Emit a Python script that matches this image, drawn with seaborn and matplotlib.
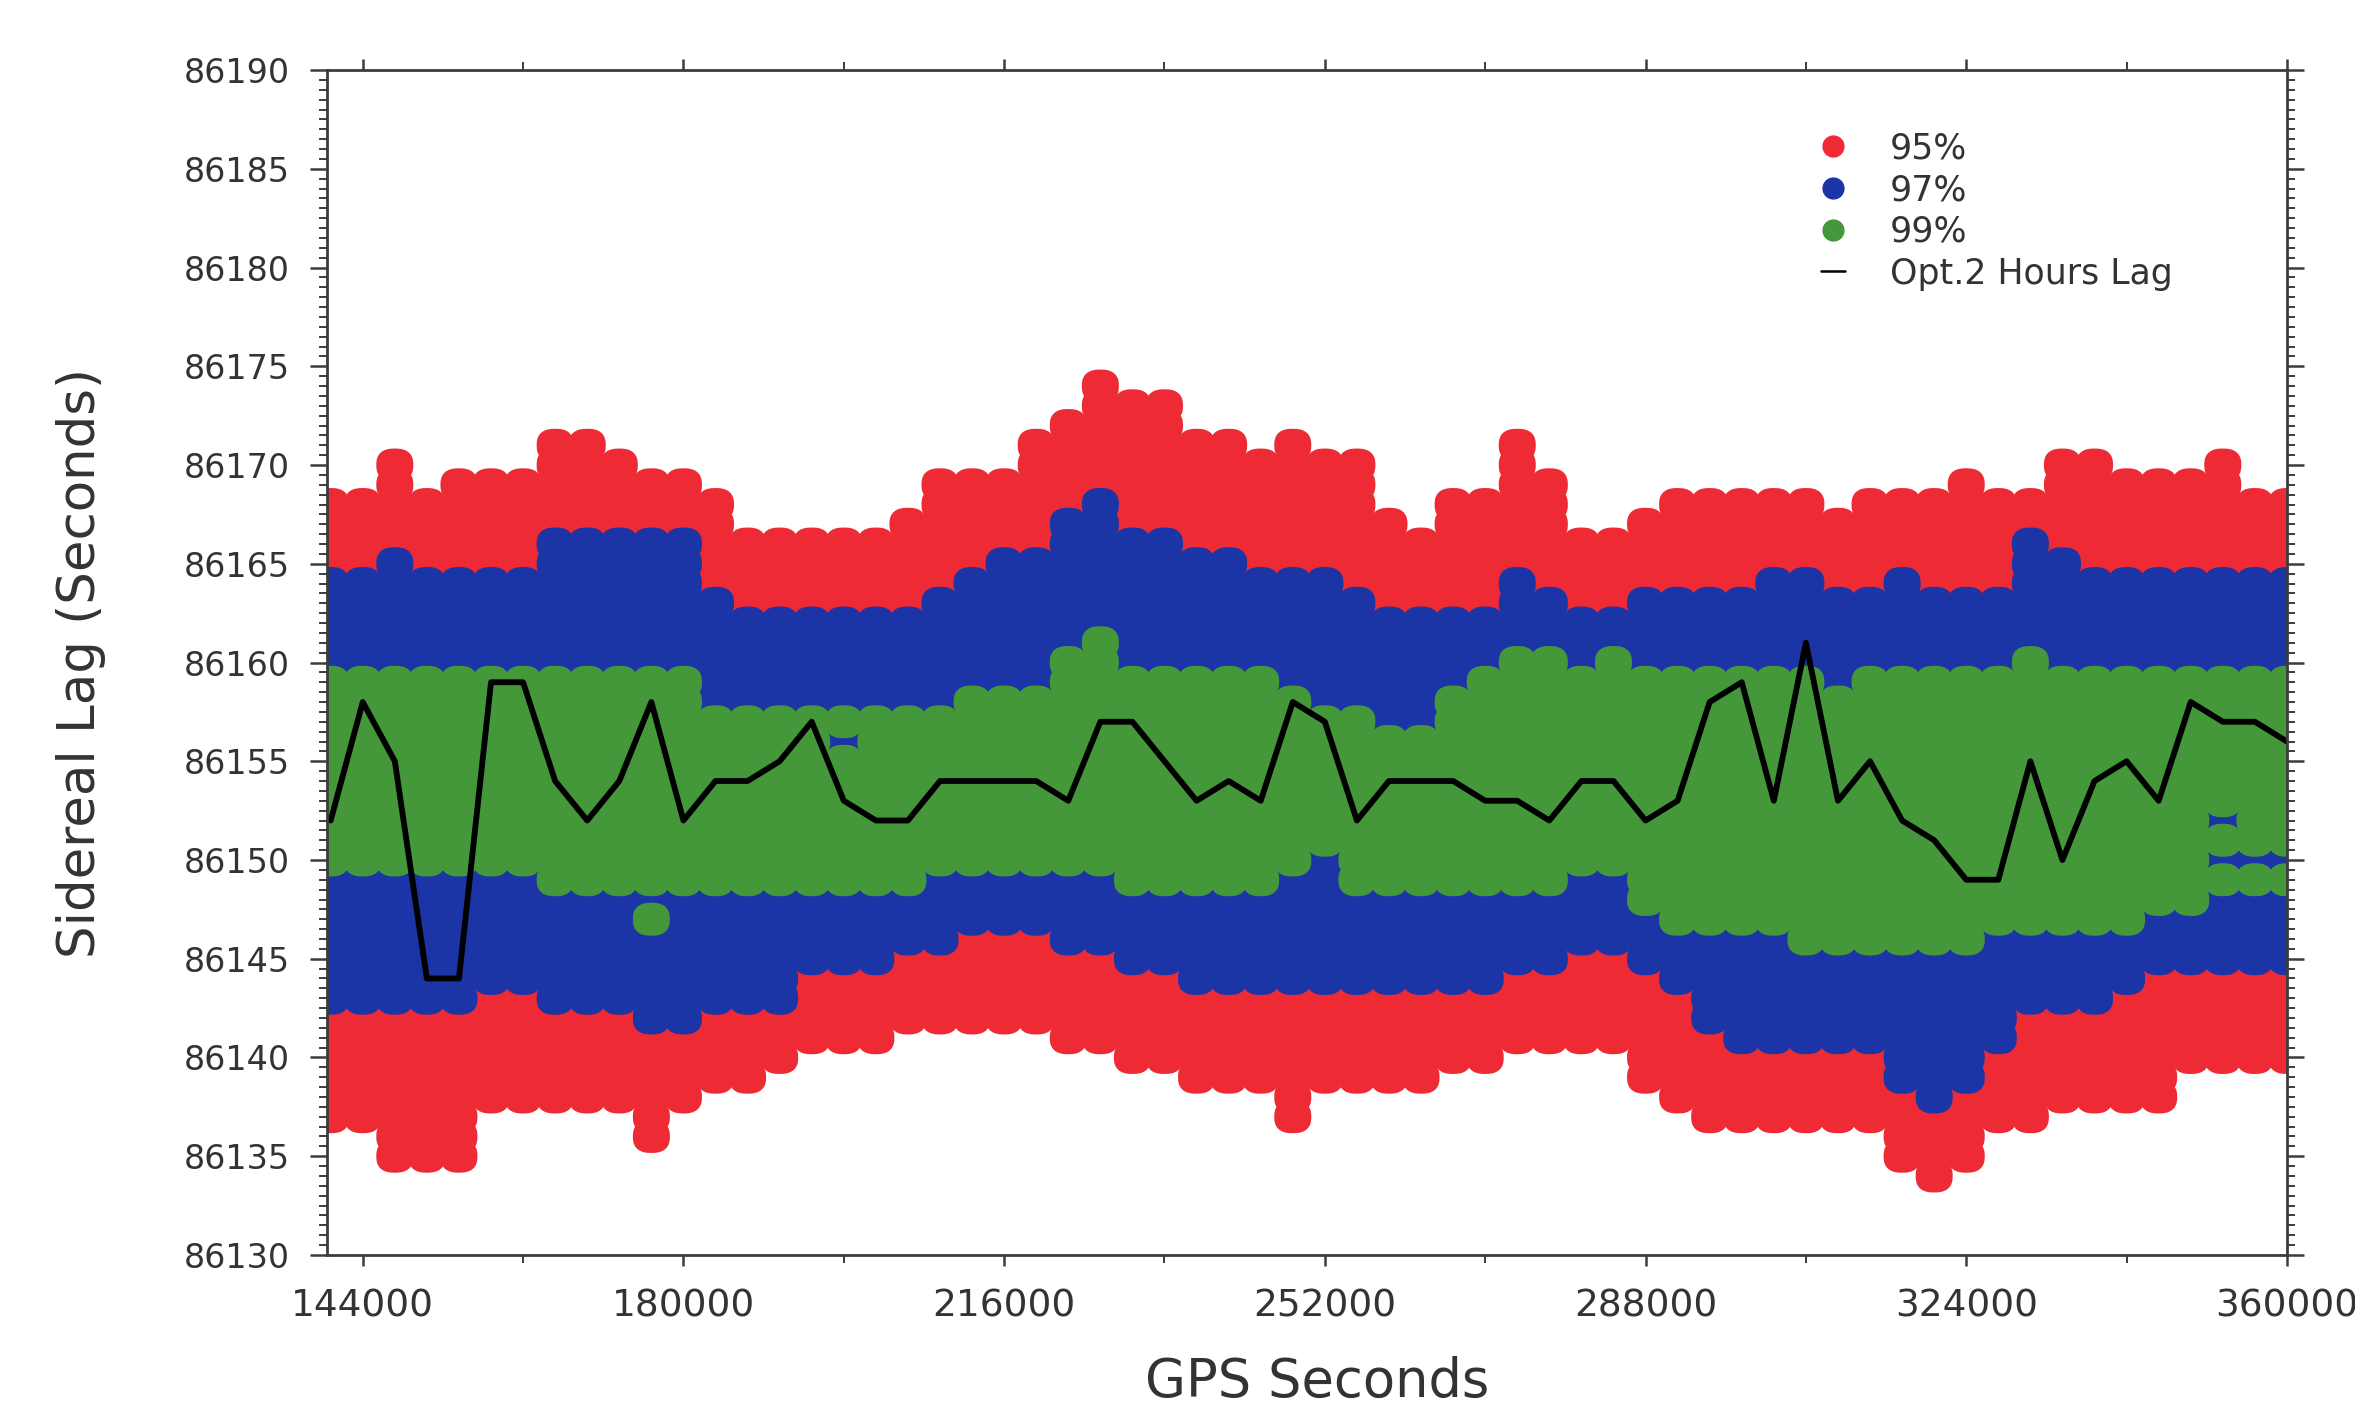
import numpy as np
import pandas as pd
import matplotlib
matplotlib.use("Agg")
import matplotlib.pyplot as plt
import seaborn as sns
from matplotlib.ticker import MultipleLocator
from matplotlib.lines import Line2D
from matplotlib.path import Path

# Hourly epochs (GPS seconds)
GPS = np.arange(140400, 360001, 3600)

# Band limits (sidereal lag, seconds) for each epoch
RED_TOP = [86168, 86168, 86170, 86168, 86169, 86169, 86169, 86171, 86171, 86170,
           86169, 86169, 86168, 86166, 86166, 86166, 86166, 86166, 86167, 86169,
           86169, 86169, 86171, 86172, 86174, 86173, 86173, 86171, 86171, 86170,
           86171, 86170, 86170, 86167, 86166, 86168, 86168, 86171, 86169, 86166,
           86166, 86167, 86168, 86168, 86168, 86168, 86168, 86167, 86168, 86168,
           86168, 86169, 86168, 86168, 86170, 86170, 86169, 86169, 86169, 86170,
           86168, 86168]
BLUE_TOP = [86164, 86164, 86165, 86164, 86164, 86164, 86164, 86166, 86166, 86166,
            86166, 86166, 86163, 86162, 86162, 86162, 86162, 86162, 86162, 86163,
            86164, 86165, 86165, 86167, 86168, 86166, 86166, 86165, 86165, 86164,
            86164, 86164, 86163, 86162, 86162, 86162, 86162, 86164, 86163, 86162,
            86162, 86163, 86163, 86163, 86163, 86164, 86164, 86163, 86163, 86164,
            86163, 86163, 86163, 86166, 86165, 86164, 86164, 86164, 86164, 86164,
            86164, 86164]
GREEN_TOP = [86159, 86159, 86159, 86159, 86159, 86159, 86159, 86159, 86159, 86159,
             86159, 86159, 86157, 86157, 86157, 86157, 86157, 86157, 86157, 86157,
             86158, 86158, 86158, 86160, 86161, 86159, 86159, 86159, 86159, 86159,
             86158, 86157, 86157, 86156, 86156, 86158, 86159, 86160, 86160, 86159,
             86160, 86159, 86159, 86159, 86159, 86159, 86159, 86158, 86159, 86159,
             86159, 86159, 86159, 86160, 86159, 86159, 86159, 86159, 86159, 86159,
             86159, 86159]
GREEN_BOT = [86150, 86150, 86150, 86150, 86150, 86150, 86150, 86149, 86149, 86149,
             86149, 86149, 86149, 86149, 86149, 86149, 86149, 86149, 86149, 86150,
             86150, 86150, 86150, 86150, 86150, 86149, 86149, 86149, 86149, 86149,
             86150, 86151, 86149, 86149, 86149, 86149, 86149, 86149, 86149, 86150,
             86150, 86148, 86147, 86147, 86147, 86147, 86146, 86146, 86146, 86146,
             86146, 86146, 86147, 86147, 86147, 86147, 86147, 86148, 86148, 86149,
             86149, 86149]
BLUE_BOT = [86143, 86143, 86143, 86143, 86143, 86144, 86144, 86143, 86143, 86143,
            86142, 86142, 86143, 86143, 86143, 86145, 86145, 86145, 86146, 86146,
            86147, 86147, 86147, 86146, 86146, 86145, 86145, 86144, 86144, 86144,
            86144, 86144, 86144, 86144, 86144, 86144, 86144, 86145, 86145, 86146,
            86146, 86145, 86144, 86142, 86141, 86141, 86141, 86141, 86141, 86139,
            86138, 86139, 86141, 86143, 86143, 86143, 86144, 86145, 86145, 86145,
            86145, 86145]
RED_BOT = [86137, 86137, 86135, 86135, 86135, 86138, 86138, 86138, 86138, 86138,
           86136, 86138, 86139, 86139, 86140, 86141, 86141, 86141, 86142, 86142,
           86142, 86142, 86142, 86141, 86141, 86140, 86140, 86139, 86139, 86139,
           86137, 86139, 86139, 86139, 86139, 86140, 86140, 86141, 86141, 86141,
           86141, 86139, 86138, 86137, 86137, 86137, 86137, 86137, 86137, 86135,
           86134, 86135, 86137, 86137, 86138, 86138, 86138, 86138, 86140, 86140,
           86140, 86140]

# Single cells that fall inside another band
BLUE_SPOTS = [(198000, 86156), (352800, 86152), (352800, 86150),
              (356400, 86150), (360000, 86150)]
GREEN_SPOTS = [(176400, 86147)]

# Optimal lag from 2-hour windows
OPT_LAG = [86152, 86158, 86155, 86144, 86144, 86159, 86159, 86154, 86152, 86154,
           86158, 86152, 86154, 86154, 86155, 86157, 86153, 86152, 86152, 86154,
           86154, 86154, 86154, 86153, 86157, 86157, 86155, 86153, 86154, 86153,
           86158, 86157, 86152, 86154, 86154, 86154, 86153, 86153, 86152, 86154,
           86154, 86152, 86153, 86158, 86159, 86153, 86161, 86153, 86155, 86152,
           86151, 86149, 86149, 86155, 86150, 86154, 86155, 86153, 86158, 86157,
           86157, 86156]

LEVELS = ["95%", "97%", "99%"]
COLORS = {"95%": "#ee2b35", "97%": "#1b34a6", "99%": "#44983a"}
X_TICKS = [144000, 180000, 216000, 252000, 288000, 324000, 360000]
Y_TICKS = list(range(86130, 86191, 5))

# Expand band limits into one cell per (epoch, lag second)
cells = {lvl: [] for lvl in LEVELS}
for i, t in enumerate(GPS):
    iso_b = {v for (tt, v) in BLUE_SPOTS if tt == t}
    iso_g = {v for (tt, v) in GREEN_SPOTS if tt == t}
    red = list(range(RED_BOT[i], BLUE_BOT[i])) + list(range(BLUE_TOP[i] + 1, RED_TOP[i] + 1))
    blue = list(range(BLUE_BOT[i], GREEN_BOT[i])) + list(range(GREEN_TOP[i] + 1, BLUE_TOP[i] + 1))
    green = list(range(GREEN_BOT[i], GREEN_TOP[i] + 1))
    blue = [v for v in blue if v not in iso_g] + sorted(iso_b)
    green = [v for v in green if v not in iso_b] + sorted(iso_g)
    cells["95%"] += [(t, v) for v in red]
    cells["97%"] += [(t, v) for v in blue]
    cells["99%"] += [(t, v) for v in green]

points = pd.concat(
    [pd.DataFrame(cells[lvl], columns=["gps", "lag"]).assign(level=lvl) for lvl in LEVELS],
    ignore_index=True,
)
line_df = pd.DataFrame({"gps": GPS, "lag": OPT_LAG})

# Rounded, slightly wide cell marker (superellipse)
_t = np.linspace(0, 2 * np.pi, 97)
_c, _s = np.cos(_t), np.sin(_t)
_p = 2 / 2.5
_verts = np.column_stack([np.sign(_c) * np.abs(_c) ** _p,
                          0.89 * np.sign(_s) * np.abs(_s) ** _p])
CELL = Path(_verts, closed=True)

sns.set_style("ticks")
plt.rcParams["font.family"] = ["DejaVu Sans"]

fig = plt.figure(figsize=(23.55, 14.12), dpi=100)
ax = fig.add_axes([0.1389, 0.1112, 0.8322, 0.8392])

sns.scatterplot(data=points, x="gps", y="lag", hue="level", hue_order=LEVELS,
                palette=COLORS, s=710, marker=CELL, linewidth=0, legend=False, ax=ax)
sns.lineplot(data=line_df, x="gps", y="lag", color="black", linewidth=4.2,
             estimator=None, sort=False, ax=ax)

ax.set_xlim(140000, 360000)
ax.set_ylim(86130, 86190)
ax.set_xticks(X_TICKS)
ax.set_xticklabels([str(v) for v in X_TICKS])
ax.set_yticks(Y_TICKS)
ax.set_yticklabels([str(v) for v in Y_TICKS])
ax.xaxis.set_minor_locator(MultipleLocator(18000))
ax.yaxis.set_minor_locator(MultipleLocator(0.5))

text_c = "#333333"
for s in ax.spines.values():
    s.set_color("#3c3c3c")
    s.set_linewidth(2.0)
ax.tick_params(axis="y", which="major", direction="out", length=12, width=1.8,
               labelsize=24, pad=15, colors="#3c3c3c", labelcolor=text_c,
               left=True, right=True)
ax.tick_params(axis="y", which="minor", direction="out", length=6, width=1.4,
               colors="#3c3c3c", left=True, right=True)
ax.tick_params(axis="x", which="major", direction="out", length=8, width=1.8,
               labelsize=27, pad=16, colors="#3c3c3c", labelcolor=text_c,
               bottom=True, top=True)
ax.tick_params(axis="x", which="minor", direction="out", length=6, width=1.4,
               colors="#3c3c3c", bottom=True, top=True)

ax.set_xlabel("GPS Seconds", fontsize=38, color=text_c)
ax.set_ylabel("Sidereal Lag (Seconds)", fontsize=37, color=text_c)
ax.xaxis.set_label_coords(0.505, -0.085)
ax.yaxis.set_label_coords(-0.113, 0.5)

handles = [Line2D([], [], marker="o", linestyle="", color=COLORS[l], markersize=15)
           for l in LEVELS]
handles.append(Line2D([], [], color="black", linewidth=1.8))
labels = LEVELS + ["Opt.2 Hours Lag"]
ax.legend(handles, labels, loc="upper left", bbox_to_anchor=(0.762, 0.948),
          frameon=False, fontsize=25, handlelength=0.7, handletextpad=1.3,
          labelspacing=0.22, borderpad=0, borderaxespad=0, labelcolor=text_c)

fig.savefig("out.png", dpi=100, facecolor="white")
